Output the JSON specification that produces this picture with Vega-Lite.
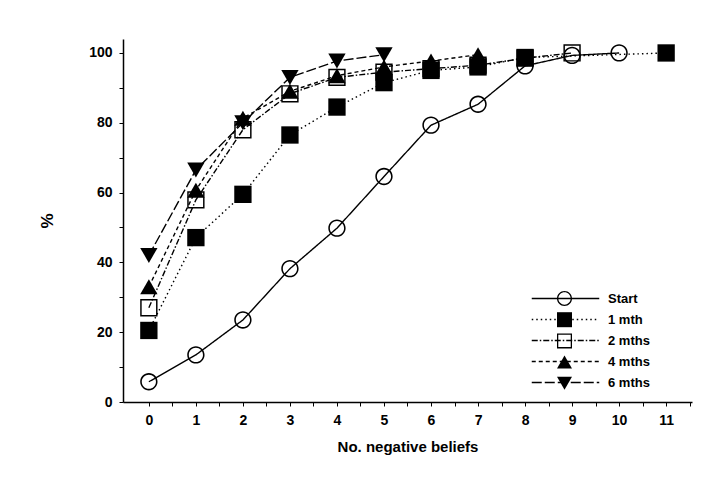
{
  "$schema": "https://vega.github.io/schema/vega-lite/v6.json",
  "width": 569,
  "height": 363,
  "autosize": {"type": "none"},
  "padding": {"left": 123, "top": 39, "right": 36, "bottom": 81},
  "background": "white",
  "config": {
    "view": {"stroke": null},
    "font": "Liberation Sans",
    "axis": {
      "grid": false,
      "domainColor": "black",
      "domainWidth": 1.5,
      "tickColor": "black",
      "tickWidth": 1,
      "tickSize": 4,
      "labelColor": "black",
      "labelFont": "Liberation Sans",
      "labelFontWeight": "bold",
      "labelFontSize": 14,
      "titleFont": "Liberation Sans",
      "titleFontWeight": "bold",
      "titleFontSize": 15,
      "titleColor": "black"
    }
  },
  "data": {
    "values": [
      {"series": "Start", "order": 0, "x": 0, "y": 5.8},
      {"series": "Start", "order": 0, "x": 1, "y": 13.5},
      {"series": "Start", "order": 0, "x": 2, "y": 23.5},
      {"series": "Start", "order": 0, "x": 3, "y": 38.2},
      {"series": "Start", "order": 0, "x": 4, "y": 49.8},
      {"series": "Start", "order": 0, "x": 5, "y": 64.6},
      {"series": "Start", "order": 0, "x": 6, "y": 79.3},
      {"series": "Start", "order": 0, "x": 7, "y": 85.3},
      {"series": "Start", "order": 0, "x": 8, "y": 96.3},
      {"series": "Start", "order": 0, "x": 9, "y": 99.3},
      {"series": "Start", "order": 0, "x": 10, "y": 100},
      {"series": "1 mth", "order": 1, "x": 0, "y": 20.5},
      {"series": "1 mth", "order": 1, "x": 1, "y": 47.1},
      {"series": "1 mth", "order": 1, "x": 2, "y": 59.5},
      {"series": "1 mth", "order": 1, "x": 3, "y": 76.5},
      {"series": "1 mth", "order": 1, "x": 4, "y": 84.5},
      {"series": "1 mth", "order": 1, "x": 5, "y": 91.5},
      {"series": "1 mth", "order": 1, "x": 6, "y": 95},
      {"series": "1 mth", "order": 1, "x": 7, "y": 96},
      {"series": "1 mth", "order": 1, "x": 8, "y": 98.7},
      {"series": "1 mth", "order": 1, "x": 11, "y": 100},
      {"series": "2 mths", "order": 2, "x": 0, "y": 27},
      {"series": "2 mths", "order": 2, "x": 1, "y": 57.9},
      {"series": "2 mths", "order": 2, "x": 2, "y": 78},
      {"series": "2 mths", "order": 2, "x": 3, "y": 88.3},
      {"series": "2 mths", "order": 2, "x": 4, "y": 93},
      {"series": "2 mths", "order": 2, "x": 5, "y": 94.5},
      {"series": "2 mths", "order": 2, "x": 6, "y": 95.5},
      {"series": "2 mths", "order": 2, "x": 7, "y": 96.5},
      {"series": "2 mths", "order": 2, "x": 8, "y": 98.5},
      {"series": "2 mths", "order": 2, "x": 9, "y": 100},
      {"series": "4 mths", "order": 3, "x": 0, "y": 33},
      {"series": "4 mths", "order": 3, "x": 1, "y": 60.7},
      {"series": "4 mths", "order": 3, "x": 2, "y": 81.3},
      {"series": "4 mths", "order": 3, "x": 3, "y": 89},
      {"series": "4 mths", "order": 3, "x": 4, "y": 93.5},
      {"series": "4 mths", "order": 3, "x": 5, "y": 96},
      {"series": "4 mths", "order": 3, "x": 6, "y": 97.7},
      {"series": "4 mths", "order": 3, "x": 7, "y": 99.5},
      {"series": "6 mths", "order": 4, "x": 0, "y": 42},
      {"series": "6 mths", "order": 4, "x": 1, "y": 66.5},
      {"series": "6 mths", "order": 4, "x": 2, "y": 80},
      {"series": "6 mths", "order": 4, "x": 3, "y": 93},
      {"series": "6 mths", "order": 4, "x": 4, "y": 97.7},
      {"series": "6 mths", "order": 4, "x": 5, "y": 99.5}
    ]
  },
  "encoding": {
    "x": {
      "field": "x",
      "type": "quantitative",
      "scale": {"domain": [-0.55, 11.55], "nice": false, "zero": false},
      "axis": {
        "title": "No. negative beliefs",
        "values": [0, 0.5, 1, 1.5, 2, 2.5, 3, 3.5, 4, 4.5, 5, 5.5, 6, 6.5, 7, 7.5, 8, 8.5, 9, 9.5, 10, 10.5, 11, 11.5],
        "labelExpr": "datum.value % 1 === 0 ? format(datum.value, 'd') : ''",
        "labelPadding": 7,
        "titlePadding": 12,
        "titleFontSize": 15
      }
    },
    "y": {
      "field": "y",
      "type": "quantitative",
      "scale": {"domain": [0, 104], "nice": false},
      "axis": {
        "title": "%",
        "values": [0, 10, 20, 30, 40, 50, 60, 70, 80, 90, 100],
        "labelExpr": "datum.value % 20 === 0 ? format(datum.value, 'd') : ''",
        "labelPadding": 7,
        "titlePadding": 32,
        "titleFontSize": 17
      }
    }
  },
  "layer": [
    {
      "mark": {"type": "line", "color": "black", "strokeWidth": 1.4},
      "encoding": {
        "strokeDash": {
          "field": "series",
          "type": "nominal",
          "sort": {"field": "order", "op": "min"},
          "scale": {"range": [[1, 0], [1.5, 3], [6, 2, 1.5, 2], [4, 3], [10, 3]]},
          "legend": {
            "title": null,
            "orient": "none",
            "legendX": 434,
            "legendY": 251,
            "symbolType": "M-4.5,0H4.5M0,-1M0,1",
            "symbolSize": 225,
            "symbolStrokeColor": "black",
            "symbolStrokeWidth": 1.4,
            "labelOffset": 34,
            "labelFont": "Liberation Sans",
            "labelFontWeight": "bold",
            "labelFontSize": 13,
            "labelColor": "black",
            "rowPadding": 0,
            "gridAlign": "all"
          }
        }
      }
    },
    {
      "mark": {"type": "point", "filled": true, "color": "black", "strokeWidth": 0, "size": 300, "opacity": 1},
      "encoding": {
        "shape": {
          "field": "series",
          "type": "nominal",
          "scale": {
            "domain": ["Start", "1 mth", "2 mths", "4 mths", "6 mths"],
            "range": [
              "M-1,0A1,1,0,1,1,1,0A1,1,0,1,1,-1,0Z M-0.82,0A0.82,0.82,0,1,0,0.82,0A0.82,0.82,0,1,0,-0.82,0Z",
              "square",
              "M-1,-1H1V1H-1Z M-0.83,-0.83V0.83H0.83V-0.83Z",
              "triangle-up",
              "triangle-down"
            ]
          },
          "legend": {
            "title": null,
            "orient": "none",
            "legendX": 434,
            "legendY": 252,
            "symbolSize": 225,
            "symbolFillColor": "black",
            "symbolStrokeWidth": 0,
            "labelExpr": "''",
            "labelOffset": 34,
            "labelFontSize": 13,
            "rowPadding": 6.2,
            "gridAlign": "all"
          }
        }
      }
    }
  ]
}
